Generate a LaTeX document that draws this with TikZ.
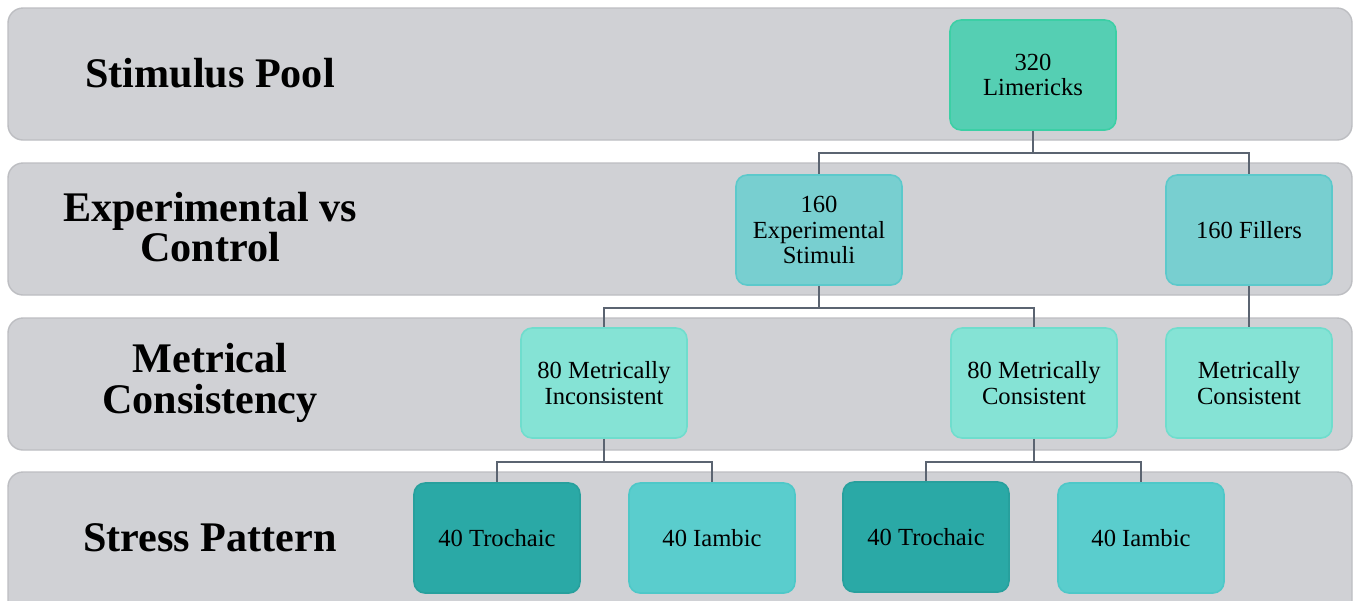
\documentclass[tikz,border=0pt]{standalone}
\usepackage{fontspec}
\setmainfont{Liberation Serif}
\usepackage{tikz}

\definecolor{bandgray}{HTML}{D0D1D5}
\definecolor{bandedge}{HTML}{BDBEC2}
\definecolor{linkgray}{HTML}{5B6471}
\definecolor{poolfill}{HTML}{55CFB3}
\definecolor{pooledge}{HTML}{3CCFA5}
\definecolor{expfill}{HTML}{78CFD0}
\definecolor{expedge}{HTML}{5CC9CB}
\definecolor{metfill}{HTML}{85E3D5}
\definecolor{metedge}{HTML}{6FDDCD}
\definecolor{trochfill}{HTML}{2AA9A6}
\definecolor{trochedge}{HTML}{27A09D}
\definecolor{iambfill}{HTML}{5ACDCD}
\definecolor{iambedge}{HTML}{4EC8C8}

\begin{document}
\begin{tikzpicture}[x=0.02cm, y=-0.02cm, line width=1.1pt,
  band/.style={fill=bandgray, draw=bandedge, line width=0.8pt, rounded corners=0.3cm},
  level/.style={font=\fontsize{24}{23}\selectfont\bfseries, align=center},
  box/.style={rectangle, rounded corners=0.22cm, minimum width=3.32cm, minimum height=2.2cm,
    align=center, font=\fontsize{14}{14.5}\selectfont, line width=0.9pt},
  link/.style={draw=linkgray}]
\useasboundingbox (0,0) rectangle (1356,600);
\fill[white] (0,0) rectangle (1356,600);
% bands
\draw[band] (8,8) rectangle (1352,140);
\draw[band] (8,163) rectangle (1352,295);
\draw[band] (8,318) rectangle (1352,450);
\draw[band] (8,472) rectangle (1352,620);
% level names
\node[level] (l1) at (210,73) {Stimulus Pool};
\node[level] (l2) at (210,227) {Experimental vs\\Control};
\node[level] (l3) at (210,383) {Metrical\\Consistency};
\node[level] (l4) at (210,538) {Stress Pattern};
% boxes
\node[box, fill=poolfill, draw=pooledge] (pool) at (1033,75) {320\\Limericks};
\node[box, fill=expfill, draw=expedge] (exp) at (819,230) {160\\Experimental\\Stimuli};
\node[box, fill=expfill, draw=expedge] (fill) at (1249,230) {160 Fillers};
\node[box, fill=metfill, draw=metedge] (incons) at (604,383) {80 Metrically\\Inconsistent};
\node[box, fill=metfill, draw=metedge] (cons) at (1034,383) {80 Metrically\\Consistent};
\node[box, fill=metfill, draw=metedge] (fcons) at (1249,383) {Metrically\\Consistent};
\node[box, fill=trochfill, draw=trochedge] (troA) at (497,538) {40 Trochaic};
\node[box, fill=iambfill, draw=iambedge] (iamA) at (712,538) {40 Iambic};
\node[box, fill=trochfill, draw=trochedge] (troB) at (926,537) {40 Trochaic};
\node[box, fill=iambfill, draw=iambedge] (iamB) at (1141,538) {40 Iambic};
% links
\draw[link] (pool.south) -- +(0,22) -| (exp.north);
\draw[link] (pool.south) -- +(0,22) -| (fill.north);
\draw[link] (exp.south) -- +(0,22) -| (incons.north);
\draw[link] (exp.south) -- +(0,22) -| (cons.north);
\draw[link] (fill) -- (fcons);
\draw[link] (incons.south) -- +(0,23) -| (troA.north);
\draw[link] (incons.south) -- +(0,23) -| (iamA.north);
\draw[link] (cons.south) -- +(0,23) -| (troB.north);
\draw[link] (cons.south) -- +(0,23) -| (iamB.north);
\end{tikzpicture}
\end{document}
